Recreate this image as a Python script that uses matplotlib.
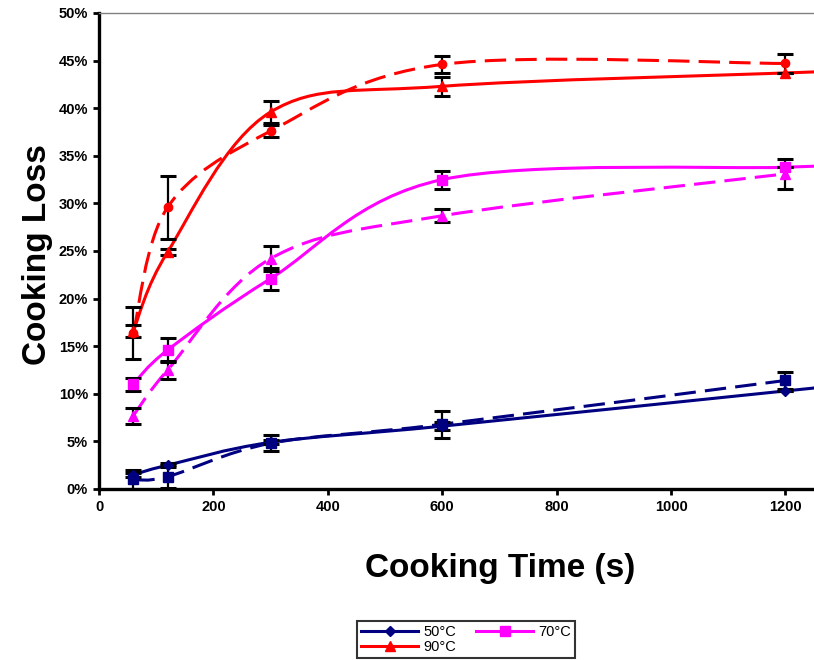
import numpy as np
import matplotlib
matplotlib.use("Agg")
import matplotlib.pyplot as plt
from matplotlib.path import Path
from matplotlib.patches import PathPatch
from matplotlib.lines import Line2D
from matplotlib.ticker import FuncFormatter, MultipleLocator

plt.rcParams['font.family'] = ['Liberation Sans', 'DejaVu Sans']

# ---- data (cooking loss, %) ----
time_pts = [60, 120, 300, 600, 1200]
edge_time = 1250

# 50 °C
loss50_a = [1.5, 2.5, 4.9, 6.6, 10.3]      # solid, diamonds
loss50_a_edge = 10.6
err50_a = [0.2, 0.2, 0.2, 0.45, 0.0]
loss50_b = [1.0, 1.3, 4.8, 6.8, 11.4]      # dashed, squares
err50_b = [1.0, 1.2, 0.85, 1.4, 0.9]

# 70 °C
loss70_a = [11.0, 14.6, 22.1, 32.5, 33.8]  # solid, squares
loss70_a_edge = 33.9
err70_a = [0.7, 1.3, 1.15, 0.95, 0.0]
loss70_b = [7.7, 12.5, 24.2, 28.7, 33.1]   # dashed, triangles
err70_b = [0.85, 0.9, 1.35, 0.7, 1.55]

# 90 °C
loss90_a = [16.6, 24.9, 39.6, 42.3, 43.7]  # solid, triangles
loss90_a_edge = 43.8
err90_a = [0.65, 0.3, 1.2, 1.0, 0.0]
loss90_b = [16.4, 29.6, 37.6, 44.6, 44.7]  # dashed, circles
err90_b = [2.75, 3.3, 0.65, 0.9, 1.0]

legend_labels = ['50°C', '70°C', '90°C']
x_label = 'Cooking Time (s)'
y_label = 'Cooking Loss'

C50, C70, C90 = '#000080', '#FF00FF', '#FF0000'

fig = plt.figure(figsize=(8.14, 6.6), dpi=100)
ax = fig.add_axes([99/814, 1-489/660, 1-99/814, (489-13)/660])


def smooth_path(x, y):
    pts = np.column_stack([np.asarray(x, float), np.asarray(y, float)])
    n = len(pts)
    verts = [pts[0]]
    codes = [Path.MOVETO]
    for i in range(n - 1):
        p0 = pts[i - 1] if i > 0 else pts[i]
        p1 = pts[i]
        p2 = pts[i + 1]
        p3 = pts[i + 2] if i + 2 < n else pts[i + 1]
        c1 = p1 + (p2 - p0) / 6.0
        c2 = p2 - (p3 - p1) / 6.0
        verts += [c1, c2, p2]
        codes += [Path.CURVE4] * 3
    return Path(verts, codes)


LW = 2.2


def draw_series(x, y, err, color, marker, ms, dashed, edge=None):
    xs = list(x)
    ys = list(y)
    if edge is not None:
        xs = xs + [edge_time]
        ys = ys + [edge]
    ls = (0, (7, 3)) if dashed else '-'
    patch = PathPatch(smooth_path(xs, ys), facecolor='none', edgecolor=color,
                      lw=LW, linestyle=ls, zorder=2, capstyle='butt')
    ax.add_patch(patch)
    ax.errorbar(x, y, yerr=err, fmt='none', ecolor='black', elinewidth=1.6,
                capsize=6, capthick=2.2, zorder=3)
    ax.plot(x, y, linestyle='none', marker=marker, ms=ms, color=color,
            mec=color, zorder=4)


draw_series(time_pts, loss50_b, err50_b, C50, 's', 6.5, True)
draw_series(time_pts, loss50_a, err50_a, C50, 'D', 5, False, loss50_a_edge)
draw_series(time_pts, loss70_b, err70_b, C70, '^', 7.5, True)
draw_series(time_pts, loss70_a, err70_a, C70, 's', 6.5, False, loss70_a_edge)
draw_series(time_pts, loss90_b, err90_b, C90, 'o', 6, True)
draw_series(time_pts, loss90_a, err90_a, C90, '^', 7.5, False, loss90_a_edge)

ax.set_xlim(0, 1250)
ax.set_ylim(0, 50)
ax.xaxis.set_major_locator(MultipleLocator(200))
ax.yaxis.set_major_locator(MultipleLocator(5))
ax.yaxis.set_major_formatter(FuncFormatter(lambda v, p: f'{v:.0f}%'))

for s in ['left', 'bottom']:
    ax.spines[s].set_linewidth(2.4)
    ax.spines[s].set_color('black')
ax.spines['right'].set_visible(False)
ax.spines['top'].set_color('#808080')
ax.spines['top'].set_linewidth(1.0)
ax.tick_params(direction='out', length=4, width=2, pad=4)
for lab in ax.get_xticklabels() + ax.get_yticklabels():
    lab.set_fontweight('bold')
    lab.set_fontsize(10.5)
ax.set_xticklabels([f'{int(v)}' for v in ax.get_xticks()])
for lab in ax.get_xticklabels():
    lab.set_fontweight('bold')
    lab.set_fontsize(10.5)

fig.text(500/814, 1-568/660, x_label, ha='center', va='center',
         fontsize=24, fontweight='bold')
fig.text(38/814, 1-255/660, y_label, ha='center', va='center',
         fontsize=24, fontweight='bold', rotation=90)

h50 = Line2D([], [], color=C50, lw=LW, marker='D', ms=5)
h70 = Line2D([], [], color=C70, lw=LW, marker='s', ms=6.5)
h90 = Line2D([], [], color=C90, lw=LW, marker='^', ms=7.5)
leg = fig.legend([h50, h90, h70], [legend_labels[0], legend_labels[2], legend_labels[1]],
                 ncol=2, loc='upper center', bbox_to_anchor=(466/814, 1-621/660),
                 fontsize=10.5, frameon=True, fancybox=False, handlelength=3.9,
                 handletextpad=0.35, columnspacing=1.4, borderpad=0.25,
                 labelspacing=0.1, borderaxespad=0)
leg.get_frame().set_edgecolor('black')
leg.get_frame().set_linewidth(1.5)

fig.savefig('out.png', dpi=100)
